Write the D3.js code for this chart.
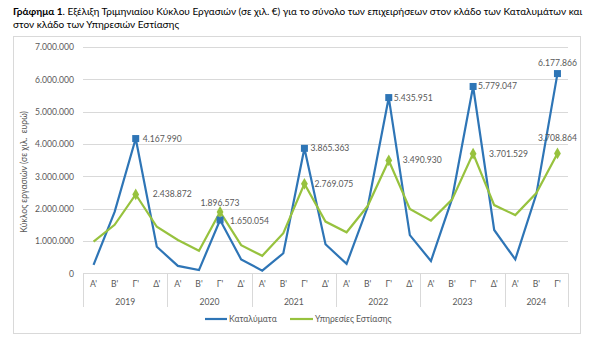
<!DOCTYPE html>
<html><head><meta charset="utf-8">
<script src="https://cdn.jsdelivr.net/npm/d3@7"></script>
<style>
body{margin:0;background:#fff;}
svg{display:block;font-family:Lato,"Open Sans",sans-serif;}
</style></head>
<body><svg id="c" width="600" height="347"></svg>
<script>
const years = ["2019","2020","2021","2022","2023","2024"];
const quarters = ["Α'","Β'","Γ'","Δ'"];
const quartersPerYear = [4,4,4,4,4,3];
const accommodation = [
  260000, 1900000, 4167990, 820000,
  230000, 100000, 1650054, 430000,
  80000, 620000, 3865363, 900000,
  290000, 2050000, 5435951, 1180000,
  380000, 2300000, 5779047, 1340000,
  430000, 2450000, 6177866
];
const foodService = [
  980000, 1500000, 2438872, 1440000,
  1030000, 700000, 1896573, 870000,
  540000, 1240000, 2769075, 1600000,
  1270000, 2080000, 3490930, 1990000,
  1630000, 2280000, 3701529, 2110000,
  1800000, 2480000, 3708864
];
const yTicks = [0,1000000,2000000,3000000,4000000,5000000,6000000,7000000];
const seriesNames = ["Καταλύματα","Υπηρεσίες Εστίασης"];
const titleBold = "Γράφημα 1";
const titleRest1 = ". Εξέλιξη Τριμηνιαίου Κύκλου Εργασιών (σε χιλ. €) για το σύνολο των επιχειρήσεων στον κλάδο των Καταλυμάτων και";
const titleLine2 = "στον κλάδο των Υπηρεσιών Εστίασης";
const yTitle = "Κύκλος εργασιών (σε χιλ.  ευρώ)";

const periods = [];
years.forEach((y,i)=>{ for(let q=0;q<quartersPerYear[i];q++) periods.push({year:y,q:quarters[q],id:y+"-"+q}); });

const blue="#2E75B6", green="#97C23E", grid="#D9D9D9", txt="#595959";
const svg=d3.select("#c");
const loc=d3.formatLocale({decimal:",",thousands:".",grouping:[3],currency:["","€"]});
const fmt=loc.format(",d");

// frame
svg.append("rect").attr("x",13.5).attr("y",36.5).attr("width",567).attr("height",297)
  .attr("fill","#fff").attr("stroke",grid).attr("stroke-width",1);

// title
const t1=svg.append("text").attr("x",13).attr("y",14.5).attr("font-size",10.5).attr("fill","#000");
t1.append("tspan").attr("font-weight","bold").text(titleBold);
t1.append("tspan").text(titleRest1);
const t2=svg.append("text").attr("x",13).attr("y",28).attr("font-size",10.5).attr("fill","#000").text(titleLine2);
const w=t1.node().getComputedTextLength();
const fs=10.5*570/w;
t1.attr("font-size",fs); t2.attr("font-size",fs);

const x=d3.scaleBand().domain(periods.map(d=>d.id)).range([83,568]);
const y=d3.scaleLinear().domain([0,7000000]).range([273.3,47]);

// grid
svg.append("g").selectAll("line").data(yTicks).join("line")
  .attr("x1",83).attr("x2",568).attr("y1",d=>Math.round(y(d))+0.5).attr("y2",d=>Math.round(y(d))+0.5)
  .attr("stroke",grid).attr("stroke-width",1);

// y axis labels
const yAxis=d3.axisLeft(y).tickValues(yTicks).tickFormat(fmt).tickSize(0).tickPadding(9);
const ga=svg.append("g").attr("transform","translate(83,0)").call(yAxis);
ga.select(".domain").remove();
ga.selectAll("text").attr("font-size",8.6).attr("fill",txt).attr("font-family","Lato,sans-serif");

// x axis quarter labels
const xAxis=d3.axisBottom(x).tickFormat((d,i)=>periods[i].q).tickSize(0).tickPadding(8);
const gx=svg.append("g").attr("transform","translate(0,273.3)").call(xAxis);
gx.select(".domain").remove();
gx.selectAll("text").attr("font-size",8.6).attr("fill",txt).attr("font-family","Lato,sans-serif");

// year separators and labels
let start=0; const bounds=[0];
quartersPerYear.forEach(n=>{start+=n; bounds.push(start);});
const sepX=bounds.map(b=> b<periods.length ? x(periods[b].id) : x(periods[periods.length-1].id)+x.bandwidth());
svg.append("g").selectAll("line").data(sepX).join("line")
  .attr("x1",d=>Math.round(d)+0.5).attr("x2",d=>Math.round(d)+0.5).attr("y1",273.3).attr("y2",307)
  .attr("stroke",grid);
svg.append("g").selectAll("text").data(years).join("text")
  .attr("x",(d,i)=>(sepX[i]+sepX[i+1])/2).attr("y",305).attr("text-anchor","middle")
  .attr("font-size",8.6).attr("fill",txt).text(d=>d);

// lines
const line=d3.line().x((d,i)=>x(periods[i].id)+x.bandwidth()/2).y(d=>y(d));
svg.append("path").datum(accommodation).attr("d",line).attr("fill","none").attr("stroke",blue).attr("stroke-width",2.2).attr("stroke-linejoin","miter");
svg.append("path").datum(foodService).attr("d",line).attr("fill","none").attr("stroke",green).attr("stroke-width",2.2);

// markers on Γ' quarters
const peakIdx=periods.map((p,i)=>p.q===quarters[2]?i:-1).filter(i=>i>=0);
const cx=i=>x(periods[i].id)+x.bandwidth()/2;
svg.append("g").selectAll("rect").data(peakIdx).join("rect")
  .attr("x",i=>cx(i)-3.5).attr("y",i=>y(accommodation[i])-3.5).attr("width",7).attr("height",7).attr("fill",blue);
svg.append("g").selectAll("path").data(peakIdx).join("path")
  .attr("d",d3.symbol().type(d3.symbolDiamond).size(40))
  .attr("transform",i=>`translate(${cx(i)},${y(foodService[i])})`).attr("fill",green);

// data labels
const blueOff={2:[7,3],6:[10,4],10:[6,3],14:[5,3],18:[5,3],22:[0,-8,"middle"]};
const greenOff={2:[17,3],6:[0,-6,"middle"],10:[10,3],14:[14,3],18:[16,3],22:[0,-12,"middle"]};
const lab=svg.append("g").attr("font-size",8.6).attr("fill",txt);
peakIdx.forEach(i=>{
  const b=blueOff[i]; lab.append("text").attr("x",cx(i)+b[0]).attr("y",y(accommodation[i])+b[1]).attr("text-anchor",b[2]||"start").text(fmt(accommodation[i]));
  const g=greenOff[i]; lab.append("text").attr("x",cx(i)+g[0]).attr("y",y(foodService[i])+g[1]).attr("text-anchor",g[2]||"start").text(fmt(foodService[i]));
});

// y title
svg.append("text").attr("transform","translate(27,172) rotate(-90)").attr("text-anchor","middle")
  .attr("font-size",8.6).attr("fill",txt).attr("xml:space","preserve").style("white-space","pre").text(yTitle);

// legend
const leg=svg.append("g");
[[205,227,229,blue,seriesNames[0]],[290,313,315,green,seriesNames[1]]].forEach(l=>{
  leg.append("line").attr("x1",l[0]).attr("x2",l[1]).attr("y1",319).attr("y2",319).attr("stroke",l[3]).attr("stroke-width",2.2);
  leg.append("text").attr("x",l[2]).attr("y",322).attr("font-size",8.6).attr("fill",txt).text(l[4]);
});
</script></body></html>
